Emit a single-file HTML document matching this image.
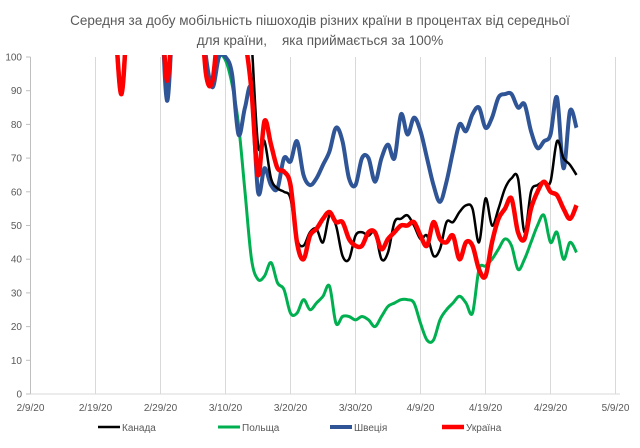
<!DOCTYPE html>
<html><head><meta charset="utf-8"><style>
body{margin:0;background:#fff;font-family:"Liberation Sans",sans-serif;}
svg text{font-family:"Liberation Sans","DejaVu Sans",sans-serif;fill:#595959;}
</style></head><body>
<svg id="chart" width="640" height="443" viewBox="0 0 640 443" xmlns="http://www.w3.org/2000/svg">
<rect width="640" height="443" fill="#fff"/>
<text x="320" y="25" font-size="13.5" text-anchor="middle">Середня за добу мобільність пішоходів різних країни в процентах від середньої</text>
<text x="320" y="45" font-size="13.5" text-anchor="middle" xml:space="preserve">для країни,    яка приймається за 100%</text>
<defs><clipPath id="plotclip"><rect x="30" y="55" width="590" height="341"/></clipPath></defs>
<g id="grid"></g>
<g id="axes"></g>
<g id="series" clip-path="url(#plotclip)"></g>
<g id="legend"></g>
</svg>
<script>
const yTicks=[0,10,20,30,40,50,60,70,80,90,100];
const xTickLabels=["2/9/20","2/19/20","2/29/20","3/10/20","3/20/20","3/30/20","4/9/20","4/19/20","4/29/20","5/9/20"];
const startDay=11; // days after 2/9/20 of first data point
const canada=[130,130,130,130,130,130,130,130,130,130,130,130,130,130,130,130,130,130,130,130,130,130,130,105,
74,75,64,61,60,58,46,44,48,49,45,53,50,41,40,47,48,47,48,40,42,51,52,53,50,46,47,41,43,51,51,54,56,55,45,58,50,55,61,64,64,48,60,62,63,63,75,70,68,65];
const poland=[130,125,110,89,115,130,130,128,130,120,88,115,130,125,130,120,100,92,100,99,92,80,60,40,
34,35,39,33,31,24,24,28,25,27,29,32,21,23,23,22,23,22,20,23,26,27,28,28,27,21,16,16,22,25,27,29,27,24,37,38,40,43,46,44,37,40,45,50,53,45,48,40,45,42];
const sweden=[130,125,110,89,115,130,130,128,130,120,87,115,130,125,130,120,100,91,100,100,95,77,85,90,
60,67,62,61,70,69,75,65,62,64,68,72,79,75,64,62,70,70,63,70,74,70,83,77,82,78,70,62,57,63,72,80,78,83,85,79,82,88,89,89,85,86,78,73,75,77,88,67,84,79];
const ukraine=[130,125,110,89,115,130,130,128,130,120,93,115,130,125,130,120,95,93,110,112,115,112,105,90,
65,81,74,67,66,62,45,40,47,49,52,54,51,51,46,44,44,48,48,43,46,48,50,50,51,47,44,51,46,45,47,40,45,44,37,35,45,52,55,58,48,46,55,60,63,60,59,55,52,56];
const seriesNames=["Польща","Швеція","Канада","Україна"];
const NS="http://www.w3.org/2000/svg";
const X0=30.5,PXDAY=6.5,Y0=394,PXUNIT=3.37;
const xs=d=>X0+d*PXDAY, ys=v=>Y0-v*PXUNIT;
function mk(t,a,p){const e=document.createElementNS(NS,t);for(const k in a)e.setAttribute(k,a[k]);p.appendChild(e);return e;}
const grid=document.getElementById('grid'),axes=document.getElementById('axes'),ser=document.getElementById('series'),leg=document.getElementById('legend');
xTickLabels.forEach((l,i)=>{const x=xs(i*10);
 if(i>0){const g=mk('line',{x1:x,x2:x,y1:57,y2:Y0,stroke:'#d9d9d9','stroke-width':1},grid);
 
 }
 const t=mk('text',{x:x,y:411,'font-size':10,'text-anchor':'middle'},axes);t.textContent=l;
 
 
});
yTicks.forEach(v=>{const t=mk('text',{x:22,y:ys(v)+3.5,'font-size':10,'text-anchor':'end'},axes);t.textContent=v;
 
 
 const k=mk('line',{x1:26,x2:X0,y1:ys(v),y2:ys(v),stroke:'#bfbfbf'},axes);
 
 
});
const ya=mk('line',{x1:X0,x2:X0,y1:57,y2:Y0,stroke:'#bfbfbf'},axes);


const xa=mk('line',{x1:X0,x2:620,y1:Y0,y2:Y0,stroke:'#d9d9d9'},axes);


function pathFor(arr){const p=arr.map((v,i)=>[xs(startDay+i),ys(v)]);let d=`M${p[0][0]},${p[0][1]}`;
 for(let i=0;i<p.length-1;i++){const a=p[i-1]||p[i],b=p[i],c=p[i+1],e=p[i+2]||c;
 const c1=[b[0]+(c[0]-a[0])/6,b[1]+(c[1]-a[1])/6],c2=[c[0]-(e[0]-b[0])/6,c[1]-(e[1]-b[1])/6];
 d+=`C${c1[0]},${c1[1]} ${c2[0]},${c2[1]} ${c[0]},${c[1]}`;}return d;}
const defs=[[poland,'#00b050',3,'line-poland'],[sweden,'#2f5597',4,'line-sweden'],[canada,'#000000',2.5,'line-canada'],[ukraine,'#ff0000',4.5,'line-ukraine']];
defs.forEach(([arr,c,w,n])=>{const p=mk('path',{d:pathFor(arr),fill:'none',stroke:c,'stroke-width':w,'stroke-linejoin':'round'},ser);
 
 });
const legItems=[["Канада",'#000000',2.5,98],["Польща",'#00b050',3,218],["Швеція",'#2f5597',4,330],["Україна",'#ff0000',4.5,442]];
legItems.forEach(([l,c,w,x])=>{const g=mk('g',{},leg);
 
 
 mk('line',{x1:x,x2:x+22,y1:427,y2:427,stroke:c,'stroke-width':w},g);
 const t=mk('text',{x:x+24,y:431,'font-size':10},g);t.textContent=l;});
</script>
</body></html>
